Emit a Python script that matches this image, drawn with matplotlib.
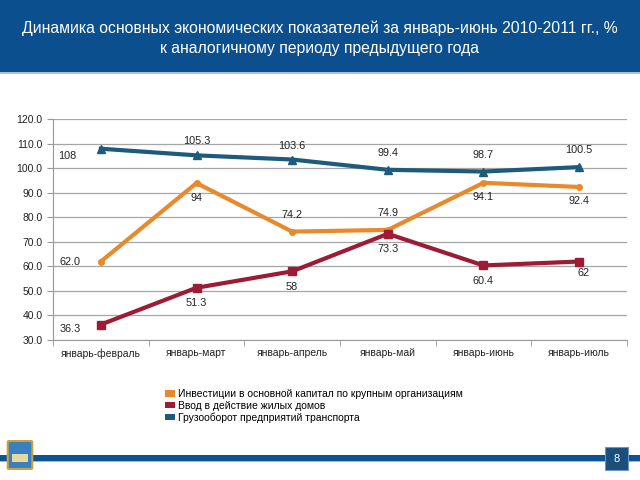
import matplotlib
matplotlib.use("Agg")
import matplotlib.pyplot as plt
from matplotlib.patches import Rectangle, FancyBboxPatch

plt.rcParams['font.family'] = ['Liberation Sans', 'DejaVu Sans']

categories = ["январь-февраль", "январь-март", "январь-апрель", "январь-май", "январь-июнь", "январь-июль"]
invest = [62.0, 94, 74.2, 74.9, 94.1, 92.4]
housing = [36.3, 51.3, 58, 73.3, 60.4, 62]
freight = [108, 105.3, 103.6, 99.4, 98.7, 100.5]
invest_labels = ["62.0", "94", "74.2", "74.9", "94.1", "92.4"]
housing_labels = ["36.3", "51.3", "58", "73.3", "60.4", "62"]
freight_labels = ["108", "105.3", "103.6", "99.4", "98.7", "100.5"]
series_names = ["Инвестиции в основной капитал по крупным организациям",
                "Ввод в действие жилых домов",
                "Грузооборот предприятий транспорта"]
title = "Динамика основных экономических показателей за январь-июнь 2010-2011 гг., %\nк аналогичному периоду предыдущего года"

c_orange = "#E8892B"
c_red = "#9E1B36"
c_blue = "#1E5A7C"

fig = plt.figure(figsize=(6.4, 4.8), dpi=100)

# header band
fig.patches.append(Rectangle((0, 1 - 72/480), 1, 72/480, transform=fig.transFigure,
                             facecolor="#0B4F8F", edgecolor="none", zorder=0))
fig.patches.append(Rectangle((0, 1 - 74/480), 1, 2/480, transform=fig.transFigure,
                             facecolor="#A9C1DA", edgecolor="none", zorder=0))
fig.text(0.5, 1 - 38/480, title, color="white", fontsize=11.3, ha="center", va="center",
         linespacing=1.45)

ax = fig.add_axes([53/640, 1 - 340/480, (627-53)/640, (340-119.3)/480])
x = list(range(len(categories)))

ax.plot(x, invest, color=c_orange, lw=3.0, marker="o", ms=4, zorder=3)
ax.plot(x, housing, color=c_red, lw=3.0, marker="s", ms=5.5, zorder=3)
ax.plot(x, freight, color=c_blue, lw=3.0, marker="^", ms=5.5, zorder=3)

ax.set_xlim(-0.5, len(categories) - 0.5)
ax.set_ylim(30, 120)
ax.set_yticks([30 + 10*i for i in range(10)])
ax.set_yticklabels([f"{30 + 10*i:.1f}" for i in range(10)])
ax.set_xticks(x)
ax.set_xticklabels(categories)
ax.set_xticks([i + 0.5 for i in range(-1, len(categories))], minor=True)
ax.tick_params(axis="x", which="major", length=0, labelsize=7.5, pad=6, colors="#222222")
ax.tick_params(axis="x", which="minor", length=4, color="#999999")
ax.tick_params(axis="y", labelsize=7.5, length=4, color="#999999", colors="#222222")
ax.grid(axis="y", color="#A6A6A6", lw=0.9)
ax.set_axisbelow(True)
for s in ["top", "right"]:
    ax.spines[s].set_visible(False)
for s in ["left", "bottom"]:
    ax.spines[s].set_color("#999999")

# data labels: (dx, dy) offsets in points
def label(vals, labs, offs):
    for xi, (v, l, o) in enumerate(zip(vals, labs, offs)):
        ax.annotate(l, (xi, v), xytext=o, textcoords="offset points", ha="center", va="center",
                    fontsize=7.8, color="#222222", zorder=5)

label(freight, freight_labels, [(-24, -5), (0, 10), (0, 10), (0, 12), (0, 12), (0, 12)])
label(invest, invest_labels, [(-22, 0), (0, -11), (0, 12), (0, 12), (0, -10), (0, -10)])
label(housing, housing_labels, [(-22, -3), (0, -11), (0, -11), (0, -11), (0, -11), (3, -8)])

# legend
handles = [Rectangle((0, 0), 1, 1, facecolor=c, edgecolor="none") for c in (c_orange, c_red, c_blue)]
fig.legend(handles, series_names, loc="upper left", bbox_to_anchor=(160/640, 1 - 384/480),
           frameon=False, fontsize=7.5, handlelength=0.9, handleheight=0.6, handletextpad=0.3,
           labelspacing=0.15, borderpad=0)

# footer line and page box
fig.patches.append(Rectangle((0, 1 - 461/480), 1, 6/480, transform=fig.transFigure,
                             facecolor="#0B5394", edgecolor="none", zorder=0))
fig.patches.append(Rectangle((0, 1 - 462/480), 1, 1/480, transform=fig.transFigure,
                             facecolor="#9DB8D6", edgecolor="none", zorder=0))
fig.patches.append(Rectangle((605/640, 1 - 470/480), 23/640, 23/480, transform=fig.transFigure,
                             facecolor="#1A4E7C", edgecolor="#6F95BC", lw=0.8, zorder=1))
fig.text(616.5/640, 1 - 458.5/480, "8", color="white", fontsize=8, ha="center", va="center", zorder=2)

# simple emblem placeholder
fig.patches.append(FancyBboxPatch((9/640, 1 - 468/480), 22/640, 26/480, transform=fig.transFigure,
                                  boxstyle="round,pad=0.002", facecolor="#3A7FC0",
                                  edgecolor="#C9A23A", lw=1.5, zorder=2))
fig.patches.append(Rectangle((12/640, 1 - 462/480), 16/640, 8/480, transform=fig.transFigure,
                             facecolor="#E8D89A", edgecolor="none", zorder=3))

fig.savefig("out.png", dpi=100)
